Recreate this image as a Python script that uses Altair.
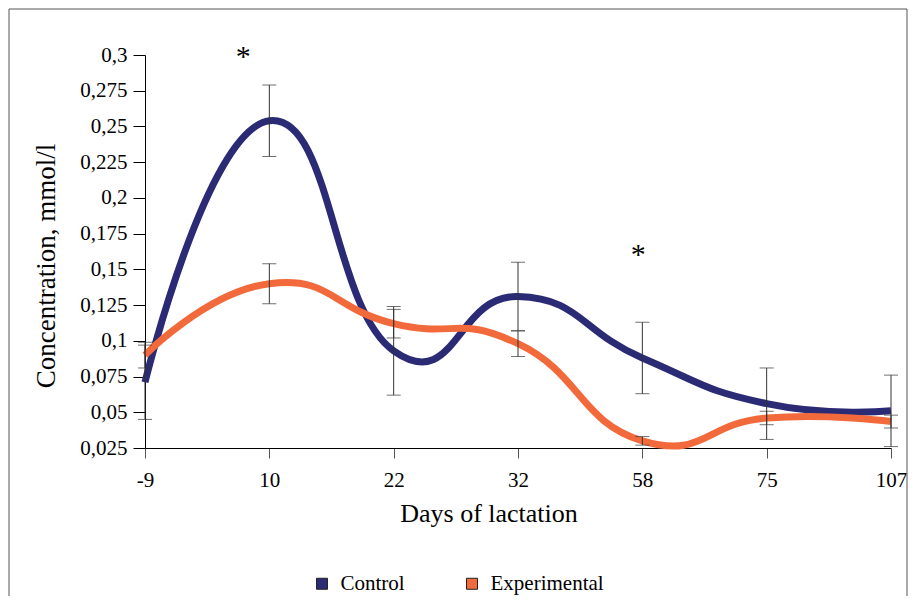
import altair as alt
import pandas as pd

FONT = "Liberation Serif"

days = ["-9", "10", "22", "32", "58", "75", "107"]
groups = ["Control", "Experimental"]
control = [0.071, 0.254, 0.093, 0.131, 0.088, 0.056, 0.051]
control_err = [0.026, 0.025, 0.031, 0.024, 0.025, 0.025, 0.025]
experimental = [0.090, 0.140, 0.112, 0.098, 0.030, 0.046, 0.0435]
experimental_err = [0.009, 0.014, 0.010, 0.009, 0.003, 0.0047, 0.0045]
colors = ["#2B2A75", "#F26A3B"]
y_ticks = [0.025, 0.05, 0.075, 0.1, 0.125, 0.15, 0.175, 0.2, 0.225, 0.25, 0.275, 0.3]
star_days = ["10", "58"]
star_values = [0.3, 0.162]

rows = []
for g, vals, errs in ((groups[0], control, control_err), (groups[1], experimental, experimental_err)):
    for d, v, e in zip(days, vals, errs):
        rows.append({"day": d, "group": g, "value": v, "lo": v - e, "hi": v + e})
df = pd.DataFrame(rows)
star_df = pd.DataFrame({"day": star_days, "value": star_values})
legend_df = pd.DataFrame({"series": groups})

W, H = 746, 393

x_axis = alt.Axis(
    title="Days of lactation", labelAngle=0, labelFont=FONT, labelFontSize=21,
    labelColor="black", labelPadding=11, tickSize=10, tickColor="#555",
    domainColor="black", titleFont=FONT, titleFontSize=26, titleFontWeight="normal",
    titleColor="black", titleX=343.5, titleY=73, titleBaseline="alphabetic",
    titleAlign="center", grid=False,
)
y_axis = alt.Axis(
    title="Concentration, mmol/l", values=y_ticks,
    labelExpr="replace(format(datum.value, '.3~f'), '.', ',')",
    labelFont=FONT, labelFontSize=21, labelColor="black", labelPadding=6,
    tickSize=12, tickColor="black", domainColor="black",
    titleFont=FONT, titleFontSize=27, titleFontWeight="normal", titleColor="black",
    titleX=-91, titleY=210.5, titleBaseline="alphabetic", titleAlign="center",
    titleAngle=270, grid=False,
)
x_scale = alt.Scale(type="point", padding=0)
y_scale = alt.Scale(domain=[0.025, 0.3], nice=False, zero=False)

X = alt.X("day:O", sort=days, scale=x_scale, axis=x_axis)


def Y(field):
    return alt.Y(f"{field}:Q", scale=y_scale, axis=y_axis)


lines = alt.Chart(df).mark_line(interpolate="cardinal", tension=-0.5, strokeWidth=7).encode(
    x=X, y=Y("value"),
    color=alt.Color("group:N", scale=alt.Scale(domain=groups, range=colors), legend=None),
    order=alt.Order("group:N"),
)

# legend drawn from a separate (invisible) layer with its own data-driven fill scale
legend_layer = alt.Chart(legend_df).mark_point(shape="square", filled=True, opacity=0).encode(
    x=alt.value(0), y=alt.value(0),
    fill=alt.Fill("series:N", sort=groups, scale=alt.Scale(range=colors), legend=alt.Legend(
        title=None, orient="none", legendX=166.5, legendY=518, direction="horizontal",
        symbolType="square", symbolSize=121, symbolStrokeColor="#222",
        symbolStrokeWidth=1, symbolOpacity=1, labelFont=FONT, labelFontSize=21,
        labelColor="black", labelOffset=8, columnPadding=56, padding=0,
    )),
)

err_rule = alt.Chart(df).mark_rule(color="#333", strokeWidth=1).encode(
    x=X, y=Y("lo"), y2="hi:Q"
)
err_lo = alt.Chart(df).mark_tick(orient="horizontal", size=14, thickness=1, color="#333").encode(
    x=X, y=Y("lo")
)
err_hi = alt.Chart(df).mark_tick(orient="horizontal", size=14, thickness=1, color="#333").encode(
    x=X, y=Y("hi")
)

star1 = alt.Chart(star_df).transform_filter(alt.datum.day == "10").mark_text(
    text="*", font=FONT, fontSize=30, dx=-26, dy=2, baseline="middle", color="black"
).encode(x=X, y=Y("value"))
star2 = alt.Chart(star_df).transform_filter(alt.datum.day == "58").mark_text(
    text="*", font=FONT, fontSize=30, dx=-4, dy=3, baseline="middle", color="black"
).encode(x=X, y=Y("value"))

frame = alt.Chart(pd.DataFrame({"k": [0]})).mark_rect(
    filled=False, stroke="#555", strokeWidth=1
).encode(x=alt.value(-136), x2=alt.value(762), y=alt.value(-46), y2=alt.value(560))

chart = alt.layer(frame, lines, legend_layer, err_rule, err_lo, err_hi, star1, star2).properties(
    width=W, height=H,
    padding={"left": 137, "top": 47, "right": 17, "bottom": 148},
    autosize=alt.AutoSizeParams(type="none"),
    background="white",
).configure_view(stroke=None)

chart.save("out.html", embed_options={"renderer": "svg", "actions": False})
